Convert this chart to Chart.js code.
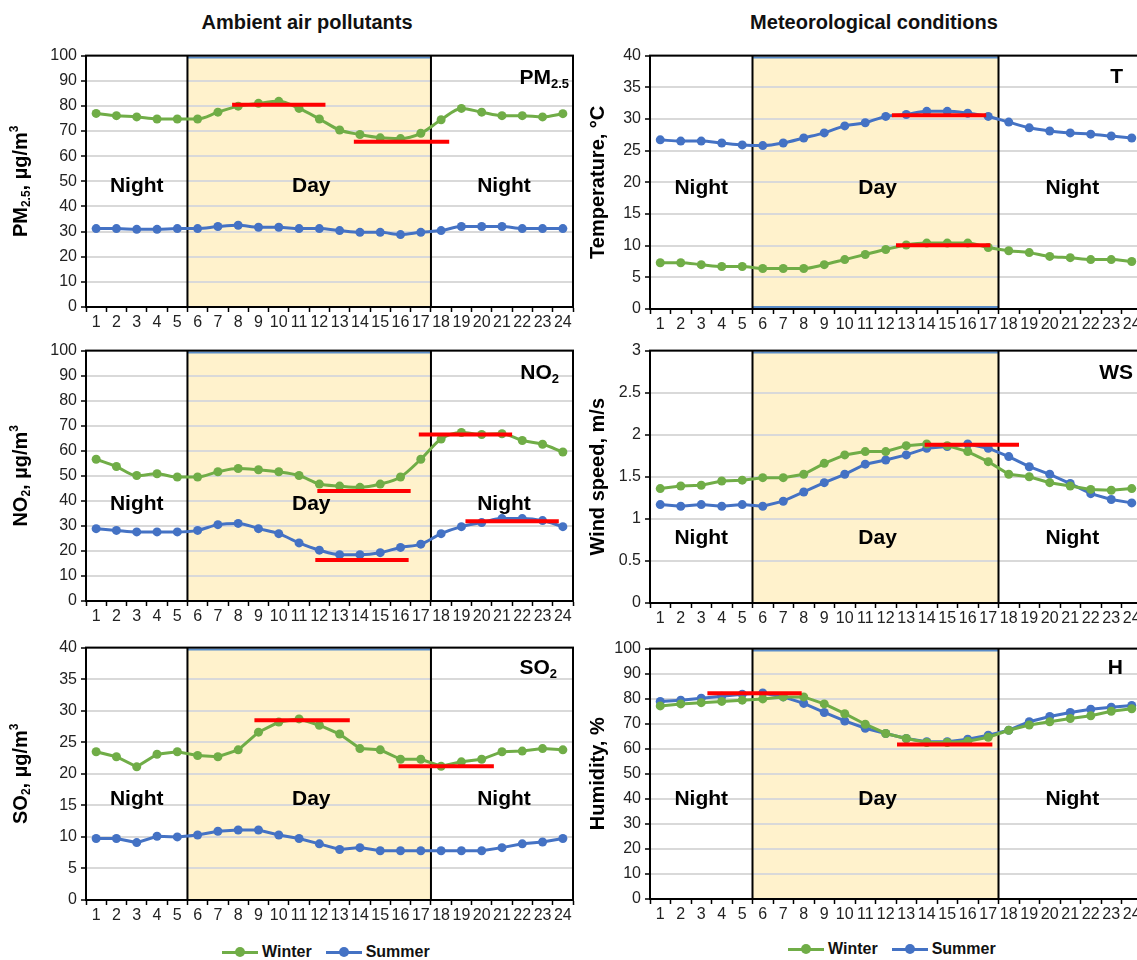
<!DOCTYPE html>
<html>
<head>
<meta charset="utf-8">
<script src="https://cdn.jsdelivr.net/npm/chart.js@4.4.1/dist/chart.umd.min.js"></script>
<style>
  body { margin: 0; width: 1137px; height: 960px; overflow: hidden; background: #fff; position: relative;
         font-family: "Liberation Sans", Arial, sans-serif; }
  canvas { position: absolute; }
  .title { position: absolute; top: 11px; transform: translateX(-50%); font-weight: bold; font-size: 20px; color: #111; white-space: nowrap; }
  .legend { position: absolute; display: flex; align-items: center; font-weight: bold; font-size: 16px; color: #111; }
  .key { display: inline-block; width: 36px; height: 3px; position: relative; margin-right: 4px; }
  .key::after { content: ''; position: absolute; left: 13px; top: -3.5px; width: 10px; height: 10px; border-radius: 50%; background: inherit; }
  .gap { width: 14px; }
</style>
</head>
<body>
<div class="title" style="left:307px">Ambient air pollutants</div>
<div class="title" style="left:874px">Meteorological conditions</div>

<div class="legend" style="left:222px;top:943px">
  <span class="key" style="background:#70AD47"></span>Winter<span class="gap"></span>
  <span class="key" style="background:#4472C4"></span>Summer
</div>
<div class="legend" style="left:788px;top:940px">
  <span class="key" style="background:#70AD47"></span>Winter<span class="gap"></span>
  <span class="key" style="background:#4472C4"></span>Summer
</div>

<script>
// hour of day
var hours = ['1','2','3','4','5','6','7','8','9','10','11','12','13','14','15','16','17','18','19','20','21','22','23','24'];

// PM2.5, ug/m3
var pm25Winter = [77, 76.1, 75.6, 74.8, 74.8, 74.8, 77.5, 79.9, 81, 81.8, 79, 74.8, 70.4, 68.6, 67.3, 67, 69.1, 74.5, 79, 77.5, 76.1, 76.1, 75.6, 76.9];
var pm25Summer = [31.2, 31.2, 30.9, 30.9, 31.2, 31.2, 32, 32.5, 31.7, 31.7, 31.2, 31.2, 30.4, 29.7, 29.7, 28.8, 29.7, 30.4, 32, 32, 32, 31.2, 31.2, 31.2];
// NO2, ug/m3
var no2Winter = [56.6, 53.7, 50.1, 50.8, 49.5, 49.5, 51.6, 52.9, 52.4, 51.6, 50.1, 46.7, 45.9, 45.4, 46.7, 49.5, 56.6, 64.7, 67.3, 66.5, 66.8, 64.1, 62.6, 59.5];
var no2Summer = [28.9, 28.2, 27.6, 27.6, 27.6, 28.2, 30.5, 31, 28.9, 26.9, 23.2, 20.3, 18.5, 18.5, 19.3, 21.4, 22.7, 26.9, 29.7, 31.3, 32.9, 32.9, 32.1, 29.7];
// SO2, ug/m3
var so2Winter = [23.5, 22.7, 21.1, 23.1, 23.5, 22.9, 22.7, 23.8, 26.6, 28.2, 28.7, 27.7, 26.3, 24.0, 23.8, 22.3, 22.3, 21.2, 21.9, 22.3, 23.5, 23.6, 24.0, 23.8];
var so2Summer = [9.75, 9.75, 9.1, 10.1, 10.0, 10.3, 10.9, 11.1, 11.1, 10.3, 9.75, 8.9, 8.0, 8.3, 7.8, 7.8, 7.8, 7.8, 7.8, 7.8, 8.3, 8.9, 9.2, 9.75];
// temperature, C
var tempWinter = [7.3, 7.3, 7.0, 6.7, 6.7, 6.4, 6.4, 6.4, 7.0, 7.8, 8.6, 9.4, 10.1, 10.4, 10.4, 10.4, 9.7, 9.2, 8.9, 8.3, 8.1, 7.8, 7.8, 7.5];
var tempSummer = [26.7, 26.5, 26.5, 26.2, 25.9, 25.8, 26.2, 27, 27.8, 28.9, 29.4, 30.4, 30.7, 31.2, 31.2, 30.9, 30.4, 29.5, 28.6, 28.1, 27.8, 27.6, 27.3, 27];
// wind speed, m/s
var wsWinter = [1.36, 1.39, 1.40, 1.45, 1.46, 1.49, 1.49, 1.53, 1.66, 1.76, 1.80, 1.80, 1.87, 1.89, 1.87, 1.80, 1.68, 1.53, 1.50, 1.43, 1.39, 1.35, 1.34, 1.36];
var wsSummer = [1.17, 1.15, 1.17, 1.15, 1.17, 1.15, 1.21, 1.32, 1.43, 1.53, 1.65, 1.70, 1.76, 1.84, 1.86, 1.89, 1.84, 1.74, 1.62, 1.53, 1.42, 1.30, 1.23, 1.19];
// humidity, %
var humWinter = [77.1, 77.9, 78.4, 78.9, 79.4, 79.9, 80.7, 80.7, 77.9, 74, 69.8, 66.1, 64.1, 62.5, 62.5, 63, 64.6, 67.4, 69.5, 70.8, 72.1, 73.2, 75, 76];
var humSummer = [78.9, 79.4, 80.2, 81, 81.8, 82.3, 80.7, 78.1, 74.5, 71.1, 68.2, 66.1, 64.1, 62.8, 62.8, 63.8, 65.4, 67.4, 70.8, 72.9, 74.5, 75.8, 76.6, 77.3];

// red mean bars: [from hour, to hour, value]
var pm25Means = [[7.7, 12.3, 80.4], [13.7, 18.4, 65.7]];
var no2Means = [[16.9, 21.5, 66.5], [11.9, 16.5, 43.9], [11.8, 16.4, 16.4], [19.2, 23.8, 31.8]];
var so2Means = [[8.8, 13.5, 28.5], [15.9, 20.6, 21.2]];
var tempMeans = [[12.3, 16.9, 30.6], [12.5, 17.1, 10.05]];
var wsMeans = [[13.9, 18.5, 1.88]];
var humMeans = [[3.3, 7.9, 82.2], [12.55, 17.2, 61.7]];

// day period, hours
var dayStart = 5.5, dayEnd = 17.5;

var GREEN = '#70AD47', BLUE = '#4472C4';
var FONT = '"Liberation Sans", Arial, sans-serif';

var columns = [
    { left: 0, axisW: 86, titleX: 21 },
    { left: 580, axisW: 70, titleX: 18 }
];

var panels = [
    { col: 0, top: 50, h: 257, winter: pm25Winter, summer: pm25Summer, max: 100, step: 10, smooth: true, means: pm25Means,
      title: [['PM', 0], ['2.5', -1], [', µg/m', 0], ['3', 1]], name: [['PM', 0], ['2.5', -1]], nameDx: -4, nameDy: 23, textY: 0.52 },
    { col: 0, top: 345, h: 256, winter: no2Winter, summer: no2Summer, max: 100, step: 10, smooth: true, means: no2Means,
      title: [['NO', 0], ['2', -1], [', µg/m', 0], ['3', 1]], name: [['NO', 0], ['2', -1]], nameDx: -14, nameDy: 23, textY: 0.615 },
    { col: 0, top: 642, h: 258, winter: so2Winter, summer: so2Summer, max: 40, step: 5, smooth: false, means: so2Means,
      title: [['SO', 0], ['2', -1], [', µg/m', 0], ['3', 1]], name: [['SO', 0], ['2', -1]], nameDx: -16, nameDy: 21, textY: 0.60 },
    { col: 1, top: 50, h: 259, winter: tempWinter, summer: tempSummer, max: 40, step: 5, smooth: true, means: tempMeans,
      title: [['Temperature, °C', 0]], name: [['T', 0]], nameDx: -19, nameDy: 22, textY: 0.525, bottomBlue: true },
    { col: 1, top: 345, h: 258, winter: wsWinter, summer: wsSummer, max: 3, step: 0.5, smooth: false, means: wsMeans,
      title: [['Wind speed, m/s', 0]], name: [['WS', 0]], nameDx: -9, nameDy: 23, textY: 0.745 },
    { col: 1, top: 643, h: 256, winter: humWinter, summer: humSummer, max: 100, step: 10, smooth: false, means: humMeans,
      title: [['Humidity, %', 0]], name: [['H', 0]], nameDx: -19, nameDy: 20, textY: 0.60 }
];

// draws text made of normal / subscript (-1) / superscript (1) parts
function drawRich(ctx, parts, x, y, size, align) {
    var fonts = parts.map(function (p) {
        return 'bold ' + (p[1] ? Math.round(size * 0.62) : size) + 'px ' + FONT;
    });
    var widths = parts.map(function (p, i) {
        ctx.font = fonts[i];
        return ctx.measureText(p[0]).width;
    });
    var total = widths.reduce(function (a, b) { return a + b; }, 0);
    var cx = align === 'center' ? x - total / 2 : (align === 'right' ? x - total : x);
    ctx.textAlign = 'left';
    ctx.textBaseline = 'middle';
    parts.forEach(function (p, i) {
        ctx.font = fonts[i];
        var dy = p[1] < 0 ? size * 0.3 : (p[1] > 0 ? -size * 0.32 : 0);
        ctx.fillText(p[0], cx, y + dy);
        cx += widths[i];
    });
}

function makeDeco(panel, col) {
    return {
        id: 'deco',
        beforeDraw: function (chart) {
            var ctx = chart.ctx, a = chart.chartArea, x = chart.scales.x;
            var x1 = x.getPixelForValue(dayStart - 1), x2 = x.getPixelForValue(dayEnd - 1);
            ctx.save();
            ctx.fillStyle = '#FFF2CC';
            ctx.fillRect(x1, a.top, x2 - x1, a.bottom - a.top);
            ctx.restore();
        },
        beforeDatasetsDraw: function (chart) {
            var ctx = chart.ctx, a = chart.chartArea, x = chart.scales.x;
            var x1 = x.getPixelForValue(dayStart - 1), x2 = x.getPixelForValue(dayEnd - 1);
            ctx.save();
            ctx.strokeStyle = '#5B8DC9';
            ctx.lineWidth = 2;
            ctx.beginPath();
            ctx.moveTo(x1, a.top + 2); ctx.lineTo(x2, a.top + 2);
            if (panel.bottomBlue) { ctx.moveTo(x1, a.bottom - 2); ctx.lineTo(x2, a.bottom - 2); }
            ctx.stroke();
            ctx.strokeStyle = '#000';
            ctx.beginPath();
            ctx.moveTo(x1, a.top); ctx.lineTo(x1, a.bottom);
            ctx.moveTo(x2, a.top); ctx.lineTo(x2, a.bottom);
            ctx.stroke();
            ctx.restore();
        },
        afterDatasetsDraw: function (chart) {
            var ctx = chart.ctx, a = chart.chartArea, x = chart.scales.x, y = chart.scales.y;
            ctx.save();
            // red mean bars
            ctx.strokeStyle = '#FF0000';
            ctx.lineWidth = 4;
            panel.means.forEach(function (m) {
                var py = y.getPixelForValue(m[2]);
                ctx.beginPath();
                ctx.moveTo(x.getPixelForValue(m[0] - 1), py);
                ctx.lineTo(x.getPixelForValue(m[1] - 1), py);
                ctx.stroke();
            });
            // Night / Day labels
            ctx.fillStyle = '#000';
            var ty = a.top + panel.textY * (a.bottom - a.top);
            drawRich(ctx, [['Night', 0]], x.getPixelForValue(2), ty, 21, 'center');
            drawRich(ctx, [['Day', 0]], x.getPixelForValue(10.6), ty, 21, 'center');
            drawRich(ctx, [['Night', 0]], x.getPixelForValue(20.1), ty, 21, 'center');
            drawRich(ctx, panel.name, a.right + panel.nameDx, a.top + panel.nameDy, 21, 'right');
            ctx.restore();
        },
        afterDraw: function (chart) {
            var ctx = chart.ctx, a = chart.chartArea;
            ctx.save();
            ctx.strokeStyle = '#000';
            ctx.lineWidth = 2;
            ctx.strokeRect(a.left, a.top, a.right - a.left, a.bottom - a.top);
            ctx.fillStyle = '#000';
            ctx.translate(col.titleX, (a.top + a.bottom) / 2);
            ctx.rotate(-Math.PI / 2);
            drawRich(ctx, panel.title, 0, 0, 20, 'center');
            ctx.restore();
        }
    };
}

panels.forEach(function (panel) {
    var col = columns[panel.col];
    var padTop = 8, padRight = 5, xAxisH = 30;
    var canvas = document.createElement('canvas');
    canvas.width = col.axisW + 487 + padRight + (panel.col === 1 ? 5 : 0);
    canvas.height = padTop + panel.h + xAxisH;
    canvas.style.left = col.left + 'px';
    canvas.style.top = (panel.top - padTop) + 'px';
    document.body.appendChild(canvas);

    function series(label, data, color) {
        return {
            label: label,
            data: data,
            borderColor: color,
            backgroundColor: color,
            borderWidth: 3,
            pointRadius: 4.5,
            pointBorderWidth: 0,
            pointBackgroundColor: color,
            tension: panel.smooth ? 0.4 : 0,
            cubicInterpolationMode: panel.smooth ? 'monotone' : 'default'
        };
    }

    new Chart(canvas.getContext('2d'), {
        type: 'line',
        data: {
            labels: hours,
            datasets: [series('Winter', panel.winter, GREEN), series('Summer', panel.summer, BLUE)]
        },
        options: {
            responsive: false,
            animation: false,
            layout: { padding: { top: padTop, right: padRight, left: 0, bottom: 0 } },
            plugins: { legend: { display: false }, tooltip: { enabled: false } },
            scales: {
                x: {
                    offset: true,
                    grid: { offset: true, drawOnChartArea: false, drawTicks: true, tickLength: 5, tickColor: '#000', tickWidth: 1.5 },
                    border: { display: true, color: '#000', width: 2 },
                    ticks: { autoSkip: false, maxRotation: 0, padding: 1, color: '#222', font: { family: FONT, size: 16 } },
                    afterFit: function (s) { s.height = xAxisH; }
                },
                y: {
                    min: 0,
                    max: panel.max,
                    ticks: {
                        stepSize: panel.step, padding: 4, color: '#222', font: { family: FONT, size: 16 },
                        callback: function (v) { return String(v); }
                    },
                    grid: { color: '#D9D9D9', lineWidth: 2, tickLength: 5, tickColor: '#000', tickWidth: 1.5 },
                    border: { display: true, color: '#000', width: 2 },
                    afterFit: function (s) { s.width = col.axisW; }
                }
            }
        },
        plugins: [makeDeco(panel, col)]
    });
});
</script>
</body>
</html>
